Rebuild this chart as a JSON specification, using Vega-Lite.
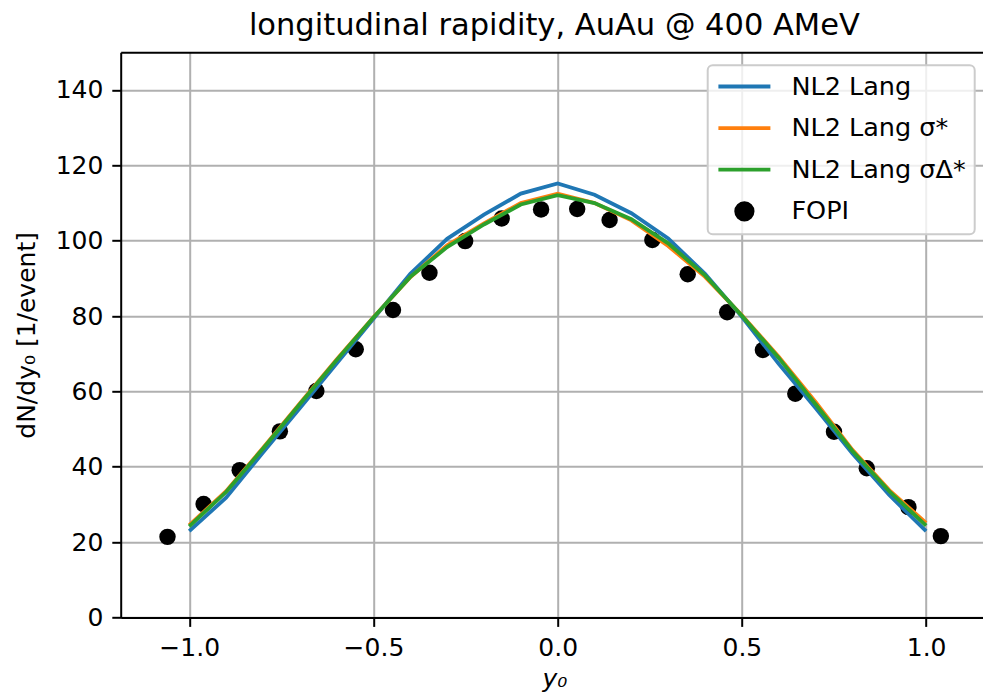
{
  "$schema": "https://vega.github.io/schema/vega-lite/v6.json",
  "width": 867.3,
  "height": 565.2,
  "autosize": {"type": "none"},
  "padding": {"left": 120.7, "top": 52.3, "right": -5, "bottom": 75.5},
  "background": "white",
  "title": {"text": "longitudinal rapidity, AuAu @ 400 AMeV", "font": "DejaVu Sans", "fontSize": 30.5, "fontWeight": "normal", "color": "black", "anchor": "middle", "frame": "group", "baseline": "alphabetic", "offset": -13.4},
  "config": {
    "view": {"stroke": null},
    "axis": {
      "domainColor": "black", "domainWidth": 2, "tickColor": "black", "tickWidth": 2, "tickSize": 8.9, "labelPadding": 8.9,
      "labelFont": "DejaVu Sans", "labelFontSize": 25, "labelColor": "black",
      "gridColor": "#b0b0b0", "gridWidth": 2, "gridOpacity": 1,
      "titleFont": "DejaVu Sans", "titleFontSize": 25, "titleFontWeight": "normal", "titleColor": "black"
    },
    "legend": {
      "orient": "none", "legendX": 587, "legendY": 13, "title": null,
      "padding": 8.7, "strokeColor": "#cccccc", "fillColor": "rgba(255,255,255,0.8)", "cornerRadius": 5,
      "labelFont": "DejaVu Sans", "labelFontSize": 25.5, "labelColor": "black", "labelLimit": 400,
      "symbolType": "stroke", "symbolSize": 2704, "symbolStrokeWidth": 3.8,
      "labelOffset": 19, "rowPadding": 15.6, "clipHeight": 25
    }
  },
  "datasets": {
    "fopi": [
      {"series": "FOPI", "y0": -1.059, "dNdy": 21.4},
      {"series": "FOPI", "y0": -0.961, "dNdy": 30.1},
      {"series": "FOPI", "y0": -0.863, "dNdy": 39.1},
      {"series": "FOPI", "y0": -0.754, "dNdy": 49.4},
      {"series": "FOPI", "y0": -0.655, "dNdy": 60.1},
      {"series": "FOPI", "y0": -0.548, "dNdy": 71.2},
      {"series": "FOPI", "y0": -0.447, "dNdy": 81.6},
      {"series": "FOPI", "y0": -0.348, "dNdy": 91.5},
      {"series": "FOPI", "y0": -0.251, "dNdy": 99.9},
      {"series": "FOPI", "y0": -0.152, "dNdy": 105.9},
      {"series": "FOPI", "y0": -0.045, "dNdy": 108.3},
      {"series": "FOPI", "y0": 0.053, "dNdy": 108.4},
      {"series": "FOPI", "y0": 0.141, "dNdy": 105.5},
      {"series": "FOPI", "y0": 0.257, "dNdy": 100.2},
      {"series": "FOPI", "y0": 0.353, "dNdy": 91.1},
      {"series": "FOPI", "y0": 0.46, "dNdy": 81.0},
      {"series": "FOPI", "y0": 0.557, "dNdy": 71.0},
      {"series": "FOPI", "y0": 0.645, "dNdy": 59.4},
      {"series": "FOPI", "y0": 0.75, "dNdy": 49.3},
      {"series": "FOPI", "y0": 0.839, "dNdy": 39.6},
      {"series": "FOPI", "y0": 0.952, "dNdy": 29.3},
      {"series": "FOPI", "y0": 1.04, "dNdy": 21.6}
    ],
    "model": [
      {"series": "NL2 Lang", "y0": -1.0, "dNdy": 22.9},
      {"series": "NL2 Lang", "y0": -0.9, "dNdy": 31.8},
      {"series": "NL2 Lang", "y0": -0.8, "dNdy": 43.8},
      {"series": "NL2 Lang", "y0": -0.7, "dNdy": 55.5},
      {"series": "NL2 Lang", "y0": -0.6, "dNdy": 67.4},
      {"series": "NL2 Lang", "y0": -0.5, "dNdy": 79.3},
      {"series": "NL2 Lang", "y0": -0.4, "dNdy": 91.2},
      {"series": "NL2 Lang", "y0": -0.3, "dNdy": 100.5},
      {"series": "NL2 Lang", "y0": -0.2, "dNdy": 106.9},
      {"series": "NL2 Lang", "y0": -0.1, "dNdy": 112.5},
      {"series": "NL2 Lang", "y0": 0.0, "dNdy": 115.2},
      {"series": "NL2 Lang", "y0": 0.1, "dNdy": 112.2},
      {"series": "NL2 Lang", "y0": 0.2, "dNdy": 107.3},
      {"series": "NL2 Lang", "y0": 0.3, "dNdy": 100.6},
      {"series": "NL2 Lang", "y0": 0.4, "dNdy": 91.2},
      {"series": "NL2 Lang", "y0": 0.5, "dNdy": 79.8},
      {"series": "NL2 Lang", "y0": 0.6, "dNdy": 67.3},
      {"series": "NL2 Lang", "y0": 0.7, "dNdy": 55.6},
      {"series": "NL2 Lang", "y0": 0.8, "dNdy": 43.5},
      {"series": "NL2 Lang", "y0": 0.9, "dNdy": 32.5},
      {"series": "NL2 Lang", "y0": 1.0, "dNdy": 22.9},
      {"series": "NL2 Lang σ*", "y0": -1.0, "dNdy": 24.5},
      {"series": "NL2 Lang σ*", "y0": -0.9, "dNdy": 33.5},
      {"series": "NL2 Lang σ*", "y0": -0.8, "dNdy": 45.0},
      {"series": "NL2 Lang σ*", "y0": -0.7, "dNdy": 56.8},
      {"series": "NL2 Lang σ*", "y0": -0.6, "dNdy": 68.5},
      {"series": "NL2 Lang σ*", "y0": -0.5, "dNdy": 79.7},
      {"series": "NL2 Lang σ*", "y0": -0.4, "dNdy": 90.3},
      {"series": "NL2 Lang σ*", "y0": -0.3, "dNdy": 98.8},
      {"series": "NL2 Lang σ*", "y0": -0.2, "dNdy": 104.6},
      {"series": "NL2 Lang σ*", "y0": -0.1, "dNdy": 110.0},
      {"series": "NL2 Lang σ*", "y0": 0.0, "dNdy": 112.5},
      {"series": "NL2 Lang σ*", "y0": 0.1, "dNdy": 110.0},
      {"series": "NL2 Lang σ*", "y0": 0.2, "dNdy": 105.4},
      {"series": "NL2 Lang σ*", "y0": 0.3, "dNdy": 98.6},
      {"series": "NL2 Lang σ*", "y0": 0.4, "dNdy": 90.4},
      {"series": "NL2 Lang σ*", "y0": 0.5, "dNdy": 80.2},
      {"series": "NL2 Lang σ*", "y0": 0.6, "dNdy": 69.2},
      {"series": "NL2 Lang σ*", "y0": 0.7, "dNdy": 57.2},
      {"series": "NL2 Lang σ*", "y0": 0.8, "dNdy": 44.5},
      {"series": "NL2 Lang σ*", "y0": 0.9, "dNdy": 33.8},
      {"series": "NL2 Lang σ*", "y0": 1.0, "dNdy": 25.1},
      {"series": "NL2 Lang σΔ*", "y0": -1.0, "dNdy": 24.2},
      {"series": "NL2 Lang σΔ*", "y0": -0.9, "dNdy": 33.3},
      {"series": "NL2 Lang σΔ*", "y0": -0.8, "dNdy": 44.8},
      {"series": "NL2 Lang σΔ*", "y0": -0.7, "dNdy": 56.6},
      {"series": "NL2 Lang σΔ*", "y0": -0.6, "dNdy": 68.3},
      {"series": "NL2 Lang σΔ*", "y0": -0.5, "dNdy": 79.6},
      {"series": "NL2 Lang σΔ*", "y0": -0.4, "dNdy": 90.4},
      {"series": "NL2 Lang σΔ*", "y0": -0.3, "dNdy": 98.3},
      {"series": "NL2 Lang σΔ*", "y0": -0.2, "dNdy": 104.3},
      {"series": "NL2 Lang σΔ*", "y0": -0.1, "dNdy": 109.6},
      {"series": "NL2 Lang σΔ*", "y0": 0.0, "dNdy": 112.1},
      {"series": "NL2 Lang σΔ*", "y0": 0.1, "dNdy": 110.0},
      {"series": "NL2 Lang σΔ*", "y0": 0.2, "dNdy": 105.7},
      {"series": "NL2 Lang σΔ*", "y0": 0.3, "dNdy": 99.3},
      {"series": "NL2 Lang σΔ*", "y0": 0.4, "dNdy": 90.8},
      {"series": "NL2 Lang σΔ*", "y0": 0.5, "dNdy": 80.1},
      {"series": "NL2 Lang σΔ*", "y0": 0.6, "dNdy": 68.9},
      {"series": "NL2 Lang σΔ*", "y0": 0.7, "dNdy": 56.6},
      {"series": "NL2 Lang σΔ*", "y0": 0.8, "dNdy": 44.2},
      {"series": "NL2 Lang σΔ*", "y0": 0.9, "dNdy": 33.5},
      {"series": "NL2 Lang σΔ*", "y0": 1.0, "dNdy": 24.4}
    ]
  },
  "layer": [
    {
      "data": {"name": "fopi"},
      "mark": {"type": "point", "filled": true, "shape": "circle", "size": 270, "opacity": 1, "strokeWidth": 0},
      "encoding": {
        "x": {"field": "y0", "type": "quantitative", "scale": {"domain": [-1.186, 1.168], "nice": false, "zero": false},
              "axis": {"orient": "top", "labels": false, "ticks": false, "grid": false, "title": null, "domain": true}},
        "y": {"field": "dNdy", "type": "quantitative", "scale": {"domain": [0, 150], "nice": false},
              "axis": {"values": [0, 20, 40, 60, 80, 100, 120, 140], "title": "dN/dy₀ [1/event]", "titlePadding": 16, "grid": true}},
        "color": {"field": "series", "type": "nominal",
          "scale": {"domain": ["NL2 Lang", "NL2 Lang σ*", "NL2 Lang σΔ*", "FOPI"], "range": ["#1f77b4", "#ff7f0e", "#2ca02c", "#000000"]},
          "legend": {
            "encode": {
              "legend": {"update": {"strokeWidth": {"value": 2}}},
              "symbols": {"update": {
                "shape": {"signal": "datum.value === 'FOPI' ? 'circle' : 'stroke'"},
                "size": {"signal": "datum.value === 'FOPI' ? 270 : 2704"},
                "fill": {"signal": "datum.value === 'FOPI' ? '#000000' : 'transparent'"},
                "stroke": {"signal": "datum.value === 'FOPI' ? 'transparent' : (datum.value === 'NL2 Lang' ? '#1f77b4' : (datum.value === 'NL2 Lang σ*' ? '#ff7f0e' : '#2ca02c'))"},
                "strokeWidth": {"value": 3.8},
                "opacity": {"value": 1}
              }}
            }
          }}
      }
    },
    {
      "data": {"name": "model"},
      "mark": {"type": "line", "strokeWidth": 3.8},
      "encoding": {
        "x": {"field": "y0", "type": "quantitative", "scale": {"domain": [-1.186, 1.168], "nice": false, "zero": false},
              "axis": {"orient": "bottom", "values": [-1, -0.5, 0, 0.5, 1], "format": ".1f", "title": "y₀", "titleFontStyle": "italic", "titlePadding": 6, "grid": true}},
        "y": {"field": "dNdy", "type": "quantitative", "scale": {"domain": [0, 150], "nice": false},
              "axis": {"values": [0, 20, 40, 60, 80, 100, 120, 140], "title": "dN/dy₀ [1/event]", "titlePadding": 16, "grid": true}},
        "color": {"field": "series", "type": "nominal",
          "scale": {"domain": ["NL2 Lang", "NL2 Lang σ*", "NL2 Lang σΔ*", "FOPI"], "range": ["#1f77b4", "#ff7f0e", "#2ca02c", "#000000"]},
          "legend": {
            "encode": {
              "legend": {"update": {"strokeWidth": {"value": 2}}},
              "symbols": {"update": {
                "shape": {"signal": "datum.value === 'FOPI' ? 'circle' : 'stroke'"},
                "size": {"signal": "datum.value === 'FOPI' ? 270 : 2704"},
                "fill": {"signal": "datum.value === 'FOPI' ? '#000000' : 'transparent'"},
                "stroke": {"signal": "datum.value === 'FOPI' ? 'transparent' : (datum.value === 'NL2 Lang' ? '#1f77b4' : (datum.value === 'NL2 Lang σ*' ? '#ff7f0e' : '#2ca02c'))"},
                "strokeWidth": {"value": 3.8},
                "opacity": {"value": 1}
              }}
            }
          }}
      }
    }
  ],
  "resolve": {"axis": {"x": "independent"}}
}
